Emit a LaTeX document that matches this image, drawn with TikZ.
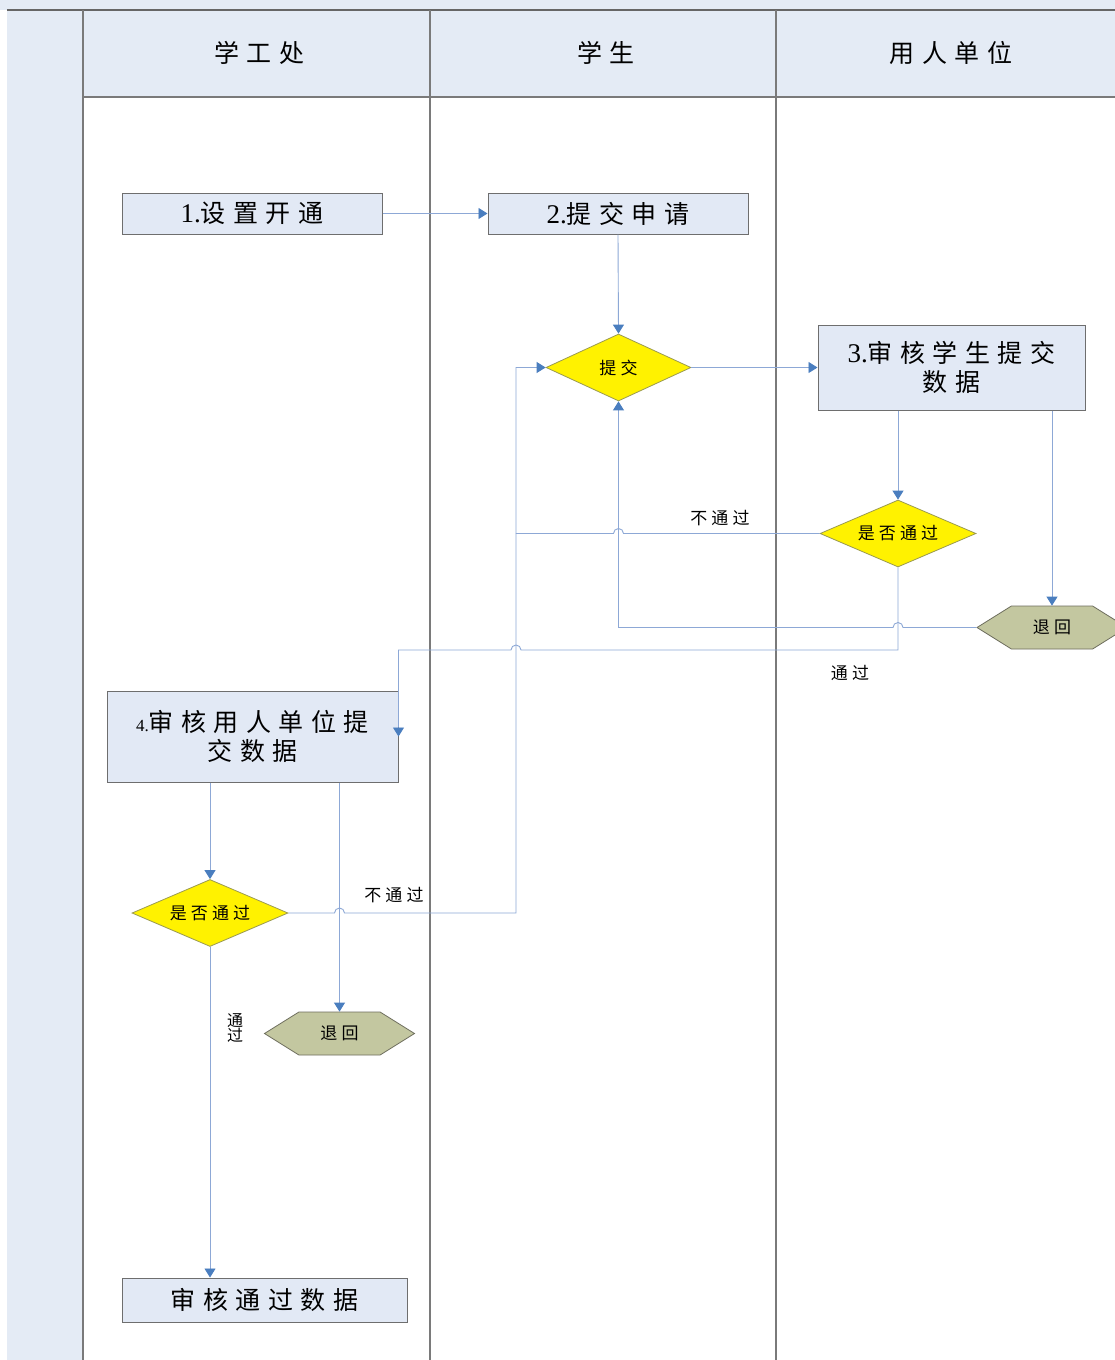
\documentclass[tikz,border=0pt]{standalone}
\usepackage{fontspec}
\setmainfont{Liberation Serif}
\newfontfamily\cjkbig[LetterSpace=30]{Noto Sans CJK SC}
\newfontfamily\cjksmall[LetterSpace=24]{Noto Sans CJK SC}
\usetikzlibrary{shapes.geometric,shapes.symbols,arrows.meta}
\definecolor{bgblue}{HTML}{E4EBF5}
\definecolor{boxblue}{HTML}{E2E9F5}
\definecolor{boxgray}{HTML}{6E6E6E}
\definecolor{lanegray}{HTML}{7A7A7A}
\definecolor{flowblue}{HTML}{8DA8D6}
\definecolor{tipblue}{HTML}{4A7EBF}
\definecolor{diagray}{HTML}{9A9A50}
\definecolor{hexfill}{HTML}{C3C7A0}
\definecolor{hexgray}{HTML}{6E6E5E}
\newcommand\bigtext{\cjkbig\fontsize{25}{29}\selectfont}
\newcommand\smalltext{\cjksmall\fontsize{17}{18}\selectfont}
\newcommand\lnum[1]{{\rmfamily\fontsize{27}{29}\selectfont#1}}
\tikzset{
  laneline/.style={draw=lanegray, line width=1.3pt},
  procbox/.style={rectangle, draw=boxgray, fill=boxblue, line width=1pt, inner sep=0pt, font=\bigtext, align=center},
  decision/.style={diamond, shape aspect=2.33, draw=diagray, fill=yellow, line width=0.8pt, minimum width=156pt, minimum height=67pt, inner sep=0pt, font=\smalltext},
  retnode/.style={signal, signal to=west and east, signal pointer angle=64, draw=hexgray, fill=hexfill, line width=0.8pt, minimum width=150pt, minimum height=43pt, inner sep=0pt, font=\smalltext},
  flow/.style={draw=flowblue, line width=0.9pt},
  arr/.style={flow, -{Triangle[width=11pt,length=9pt,color=tipblue]}},
  lbl/.style={font=\smalltext, inner sep=0pt, align=center},
  lanehead/.style={font=\bigtext, inner sep=0pt}
}
\begin{document}
\begin{tikzpicture}[x=1pt,y=-1pt]
\useasboundingbox (0,0) rectangle (1115,1360);
% backgrounds
\fill[white] (0,0) rectangle (1115,1360);
\fill[bgblue] (0,0) rectangle (1115,10);
\fill[bgblue] (7,10) rectangle (83,1360);
\fill[bgblue] (83,10) rectangle (1115,97);
% lane lines
\draw[laneline, line width=2pt, draw=black!60] (7,10) -- (1115,10);
\draw[laneline] (83,10) -- (83,1360);
\draw[laneline] (430,10) -- (430,1360);
\draw[laneline] (776,10) -- (776,1360);
\draw[laneline] (83,97) -- (1115,97);
% headers
\node[lanehead] (h1) at (259,53) {学工处};
\node[lanehead] (h2) at (606,53) {学生};
\node[lanehead] (h3) at (951,53) {用人单位};
% nodes
\node[procbox, minimum width=260pt, minimum height=41pt] (b1) at (252,213.5) {\lnum{1.}设置开通};
\node[procbox, minimum width=260pt, minimum height=41pt] (b2) at (618,213.5) {\lnum{2.}提交申请};
\node[decision, minimum width=145pt, shape aspect=2.16] (d1) at (618.5,367.5) {提交};
\node[procbox, minimum width=267pt, minimum height=85pt] (b3) at (951.5,367.5) {\lnum{3.}审核学生提交\\数据};
\node[decision] (d2) at (898,533.5) {是否通过};
\node[retnode] (r1) at (1052,627.5) {退回};
\node[procbox, minimum width=291pt, minimum height=91pt] (b4) at (252.5,736.5) {{\rmfamily\fontsize{17}{18}\selectfont 4.}审核用人单位提\\交数据};
\node[decision] (d3) at (210,913) {是否通过};
\node[retnode] (r2) at (339.5,1033.5) {退回};
\node[procbox, minimum width=285pt, minimum height=44pt] (b5) at (264.5,1300) {审核通过数据};
% helper coordinates
\coordinate (loopx) at (516,0);
\coordinate (lvl) at (0,650);
% connectors
\draw[arr] (b1.east) -- (b2.west);
\draw[arr] (b2.south) -- (d1.north);
\draw[arr] (d1.east) -- (b3.west);
\draw[arr] (d2.north |- b3.south) -- (d2.north);
\draw[arr] (r1.north |- b3.south) -- (r1.north);
\draw[arr] (r1.west) -- ([xshift=5pt]d2.south |- r1.west) arc[start angle=0,end angle=180,radius=5pt] -- (d1.south |- r1.west) -- (d1.south);
\draw[arr] (d2.west) -- ([xshift=5pt]d1.south |- d2.west) arc[start angle=0,end angle=180,radius=5pt] -- (loopx |- d2.west) -- (loopx |- d1.west) -- (d1.west);
\draw[arr] (d2.south) -- (d2.south |- lvl) -- ([xshift=5pt]loopx |- lvl) arc[start angle=0,end angle=180,radius=5pt] -- (b4.east |- lvl) -- (b4.east);
\draw[arr] (d3.north |- b4.south) -- (d3.north);
\draw[arr] (r2.north |- b4.south) -- (r2.north);
\draw[flow] (d3.east) -- ([xshift=-5pt]r2.north |- d3.east) arc[start angle=180,end angle=0,radius=5pt] -- (loopx |- d3.east) -- (loopx |- d2.west);
\draw[arr] (d3.south) -- (d3.south |- b5.north);
% labels
\node[lbl] (l1) at (720,518) {不通过};
\node[lbl] (l2) at (850,673) {通过};
\node[lbl] (l3) at (394,895) {不通过};
\node[lbl, font=\cjkbig\fontsize{16}{14}\selectfont] (l4) at (235,1028) {通\\过};
\end{tikzpicture}
\end{document}
